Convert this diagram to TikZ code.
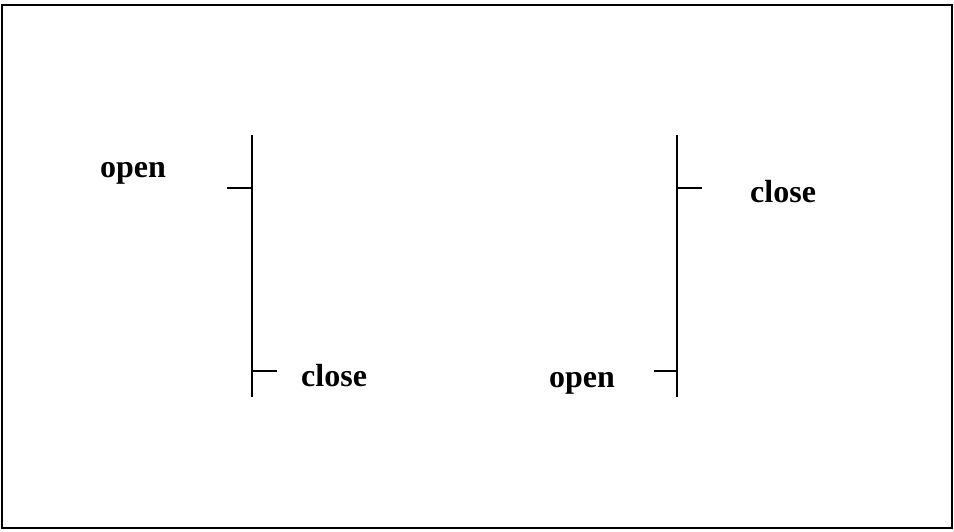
\documentclass[tikz,border=0pt]{standalone}
\usepackage{fontspec}
\setmainfont{Liberation Serif}
\begin{document}
\begin{tikzpicture}[x=1pt,y=-1pt,
  lbl/.style={anchor=base west,inner sep=0pt,font=\fontsize{32}{38}\selectfont\bfseries},
  bar/.style={line width=2pt}]
\useasboundingbox (0,0) rectangle (954,531);
\draw[line width=2pt] (2,5) rectangle (952,528);
% left bracket
\coordinate (lt) at (252,135);
\coordinate (lb) at (252,397);
\coordinate (lo) at (227,188);
\coordinate (loj) at (252,188);
\coordinate (lc) at (277,371);
\coordinate (lcj) at (252,371);
\draw[bar] (lt) -- (lb);
\draw[bar] (lo) -- (loj);
\draw[bar] (lcj) -- (lc);
\node[lbl] (openL) at (100,177) {open};
\node[lbl] (closeL) at (301,386) {close};
% right bracket
\coordinate (rt) at (677,135);
\coordinate (rb) at (677,397);
\coordinate (rc) at (702,188);
\coordinate (rcj) at (677,188);
\coordinate (ro) at (654,371);
\coordinate (roj) at (677,371);
\draw[bar] (rt) -- (rb);
\draw[bar] (rcj) -- (rc);
\draw[bar] (ro) -- (roj);
\node[lbl] (closeR) at (750,202) {close};
\node[lbl] (openR) at (549,387) {open};
\end{tikzpicture}
\end{document}
